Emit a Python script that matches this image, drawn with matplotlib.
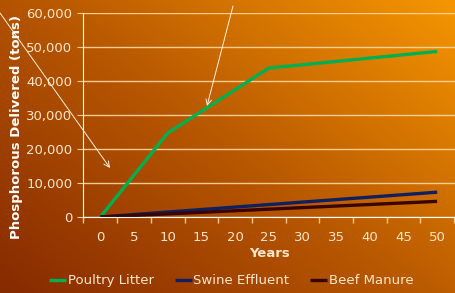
import numpy as np
import matplotlib
matplotlib.use("Agg")
from matplotlib import pyplot as plt
from matplotlib.colors import LinearSegmentedColormap

# data (tons of phosphorous delivered)
poultry_years = [0, 10, 25, 50]
poultry_tons = [0, 24700, 43800, 48700]
swine_years = [0, 50]
swine_tons = [0, 7300]
beef_years = [0, 50]
beef_tons = [0, 4600]
year_ticks = [0, 5, 10, 15, 20, 25, 30, 35, 40, 45, 50]
y_ticks = [0, 10000, 20000, 30000, 40000, 50000, 60000]

txt = '#FBE6CC'
matplotlib.rcParams['font.family'] = 'DejaVu Sans'

fig = plt.figure(figsize=(4.56, 2.93), dpi=100)

# diagonal orange gradient background
bg = fig.add_axes([0, 0, 1, 1], zorder=-10)
xx, yy = np.meshgrid(np.linspace(0, 1, 300), np.linspace(0, 1, 200))
grad = 0.55 * xx + 0.45 * yy
cmap = LinearSegmentedColormap.from_list('bg', ['#862A00', '#B85800', '#F59600'])
bg.imshow(grad, cmap=cmap, origin='lower', aspect='auto', extent=[0, 1, 0, 1])
bg.axis('off')

ax = fig.add_axes([83.5/456, 1 - 217/293, (456 - 83.5)/456, (217 - 13)/293])
ax.patch.set_alpha(0)

ax.plot(poultry_years, poultry_tons, color='#00B050', lw=2.4, label='Poultry Litter', solid_capstyle='butt')
ax.plot(swine_years, swine_tons, color='#0F2060', lw=2.4, label='Swine Effluent', solid_capstyle='butt')
ax.plot(beef_years, beef_tons, color='#3A0500', lw=2.4, label='Beef Manure', solid_capstyle='butt')

ax.set_xlim(-2.45, 52.8)
ax.set_ylim(0, 60000)
ax.set_xticks(year_ticks)
ax.set_xticklabels([str(v) for v in year_ticks])
ax.set_xticks(np.arange(-2.5, 53, 5), minor=True)
ax.set_yticks(y_ticks)
ax.set_yticklabels(['{:,}'.format(v) for v in y_ticks])
ax.tick_params(axis='x', which='major', length=0, pad=10, colors=txt, labelsize=9.5)
ax.tick_params(axis='x', which='minor', length=4, color='#F5C890', width=1)
ax.tick_params(axis='y', length=4, color='#F5C890', colors=txt, labelsize=9.5, pad=4)
ax.yaxis.grid(True, color='#FFD8A0', lw=1, alpha=0.9)
ax.set_axisbelow(True)
for s in ['top', 'right']:
    ax.spines[s].set_visible(False)
ax.spines['left'].set_color('white')
ax.spines['bottom'].set_color('white')

ax.set_xlabel('Years', fontsize=9.5, fontweight='bold', color=txt, labelpad=2)
fig.text(17/456, 1 - 127/293, 'Phosphorous Delivered (tons)', rotation=90, ha='center', va='center',
         fontsize=9.5, fontweight='bold', color='white')

# white arrows
ax.annotate('', xy=(110, 293 - 168), xytext=(0, 293 - 13), xycoords='figure pixels', textcoords='figure pixels',
            arrowprops=dict(arrowstyle='->', color='#FFF2DD', lw=0.7, shrinkA=0, shrinkB=0))
ax.annotate('', xy=(207, 293 - 106), xytext=(233, 293 - 6), xycoords='figure pixels', textcoords='figure pixels',
            arrowprops=dict(arrowstyle='->', color='#FFF2DD', lw=0.7, shrinkA=0, shrinkB=0))

fig.legend(loc='center', bbox_to_anchor=(0.507, 0.041), ncol=3, frameon=False, fontsize=9.5,
           labelcolor=txt, handlelength=1.3, handletextpad=0.1, columnspacing=1.6)

fig.savefig('out.png', dpi=100)
